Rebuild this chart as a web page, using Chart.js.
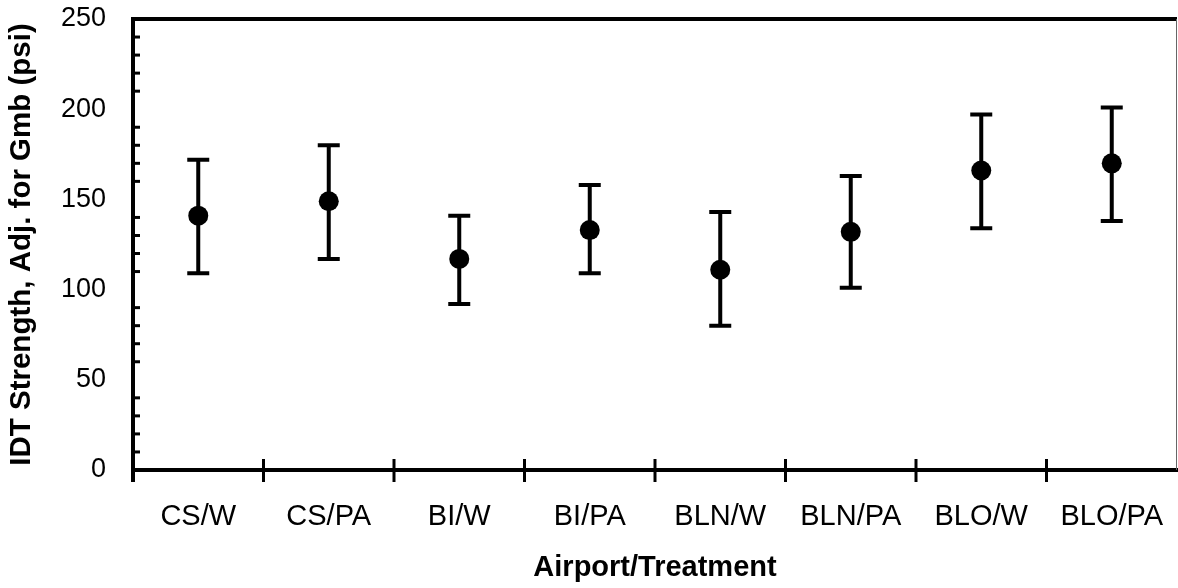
<!DOCTYPE html>
<html>
<head>
<meta charset="utf-8">
<script src="https://cdn.jsdelivr.net/npm/chart.js@4.4.0/dist/chart.umd.min.js"></script>
<style>
  html, body { margin: 0; padding: 0; background: #fff; }
  #wrap { width: 1178px; height: 588px; }
</style>
</head>
<body>
<div id="wrap"><canvas id="grafico" width="1178" height="588"></canvas></div>
<script>
const categories = ['CS/W', 'CS/PA', 'BI/W', 'BI/PA', 'BLN/W', 'BLN/PA', 'BLO/W', 'BLO/PA'];
const means = [141, 149, 117, 133, 111, 132, 166, 170];
const lower = [109, 117, 92, 109, 80, 101, 134, 138];
const upper = [172, 180, 141, 158, 143, 163, 197, 201];
const yTicks = [0, 50, 100, 150, 200, 250];
const yMinor = [10, 20, 30, 40, 60, 70, 80, 90, 110, 120, 130, 140, 160, 170, 180, 190, 210, 220, 230, 240];

const fonte = "'Liberation Sans', Arial, sans-serif";

// error bars, frame and tick marks drawn through the chart's scales
const extras = {
  id: 'extras',
  beforeDatasetsDraw(chart) {
    const ctx = chart.ctx;
    const x = chart.scales.x;
    const y = chart.scales.y;
    ctx.save();
    ctx.strokeStyle = '#000';
    ctx.lineWidth = 4;
    ctx.lineCap = 'butt';
    for (let i = 0; i < categories.length; i++) {
      const px = x.getPixelForValue(i);
      const top = y.getPixelForValue(upper[i]);
      const bot = y.getPixelForValue(lower[i]);
      ctx.beginPath();
      ctx.moveTo(px, top);
      ctx.lineTo(px, bot);
      ctx.moveTo(px - 11, top);
      ctx.lineTo(px + 11, top);
      ctx.moveTo(px - 11, bot);
      ctx.lineTo(px + 11, bot);
      ctx.stroke();
    }
    ctx.restore();
  },
  afterDraw(chart) {
    const ctx = chart.ctx;
    const a = chart.chartArea;
    const x = chart.scales.x;
    const y = chart.scales.y;
    ctx.save();
    ctx.strokeStyle = '#000';
    // top border
    ctx.lineWidth = 4;
    ctx.beginPath();
    ctx.moveTo(a.left - 2, a.top);
    ctx.lineTo(a.right, a.top);
    ctx.stroke();
    // right border
    ctx.lineWidth = 1;
    ctx.strokeStyle = '#666';
    ctx.beginPath();
    ctx.moveTo(a.right - 0.5, a.top);
    ctx.lineTo(a.right - 0.5, a.bottom);
    ctx.stroke();
    ctx.strokeStyle = '#000';
    // minor y ticks, inward
    ctx.lineWidth = 3;
    yMinor.forEach(v => {
      const py = y.getPixelForValue(v);
      ctx.beginPath();
      ctx.moveTo(a.left, py);
      ctx.lineTo(a.left + 7, py);
      ctx.stroke();
    });
    // category dividers across the x axis
    ctx.lineWidth = 3;
    for (let i = 0; i < categories.length - 1; i++) {
      const px = (x.getPixelForValue(i) + x.getPixelForValue(i + 1)) / 2;
      ctx.beginPath();
      ctx.moveTo(px, a.bottom - 11);
      ctx.lineTo(px, a.bottom + 12);
      ctx.stroke();
    }
    // left end of x axis extends below
    ctx.lineWidth = 4;
    ctx.beginPath();
    ctx.moveTo(a.left, a.bottom);
    ctx.lineTo(a.left, a.bottom + 12);
    ctx.stroke();
    ctx.restore();
  }
};

const ctx = document.getElementById('grafico').getContext('2d');

const grafico = new Chart(ctx, {
  type: 'line',
  data: {
    labels: categories,
    datasets: [{
      label: 'IDT Strength',
      data: means,
      showLine: false,
      pointRadius: 10,
      pointHoverRadius: 10,
      pointBackgroundColor: '#000',
      pointBorderColor: '#000',
      pointBorderWidth: 0
    }]
  },
  options: {
    responsive: false,
    animation: false,
    layout: { autoPadding: false, padding: { top: 19, right: 1, left: 0, bottom: 0 } },
    plugins: {
      legend: { display: false },
      tooltip: { enabled: false }
    },
    scales: {
      x: {
        type: 'category',
        offset: true,
        afterFit(scale) {
          scale.height = 118;
          scale.paddingLeft = 0;
          scale.paddingRight = 0;
        },
        grid: { display: false, drawTicks: false },
        border: { display: true, width: 4, color: '#000' },
        ticks: {
          color: '#000',
          padding: 30,
          font: { family: fonte, size: 29 },
          maxRotation: 0,
          autoSkip: false
        },
        title: {
          display: true,
          text: 'Airport/Treatment',
          color: '#000',
          font: { family: fonte, size: 29, weight: 'bold' },
          padding: { top: 4, bottom: 3 }
        }
      },
      y: {
        min: 0,
        max: 250,
        afterFit(scale) {
          scale.width = 133;
          scale.paddingTop = 0;
          scale.paddingBottom = 0;
        },
        afterBuildTicks(scale) { scale.ticks = yTicks.map(v => ({ value: v })); },
        grid: { display: false, drawTicks: false },
        border: { display: true, width: 4, color: '#000' },
        ticks: {
          color: '#000',
          padding: 27,
          font: { family: fonte, size: 27 }
        },
        title: {
          display: true,
          text: 'IDT Strength, Adj. for Gmb (psi)',
          color: '#000',
          font: { family: fonte, size: 29.5, weight: 'bold' },
          padding: { top: 4, bottom: 0 }
        }
      }
    }
  },
  plugins: [extras]
});
</script>
</body>
</html>
